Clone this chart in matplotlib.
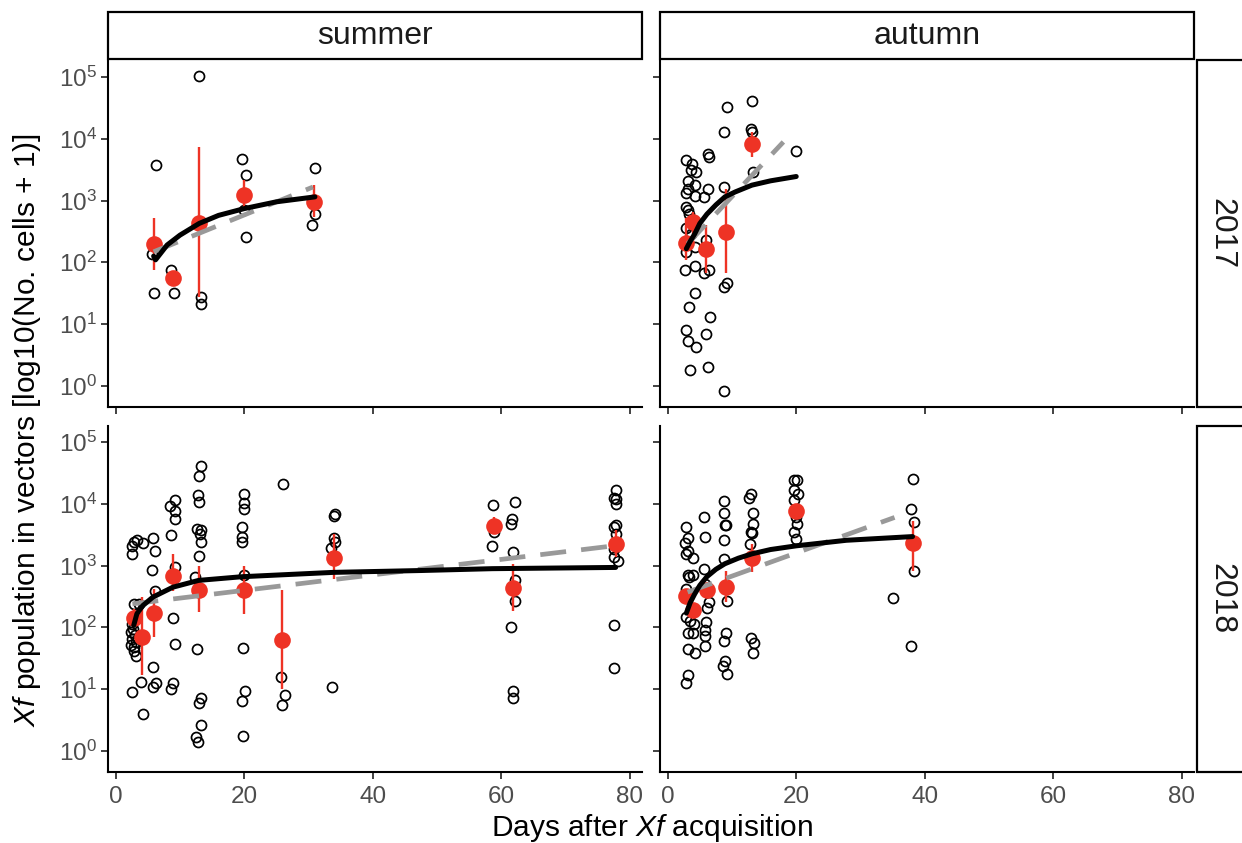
import numpy as np
import matplotlib
matplotlib.use("Agg")
import matplotlib.pyplot as plt
from matplotlib.patches import Rectangle
from matplotlib.ticker import LogFormatterSciNotation, FixedLocator

plt.rcParams['font.family'] = ['Liberation Sans', 'DejaVu Sans']
plt.rcParams['mathtext.fontset'] = 'custom'
plt.rcParams['mathtext.rm'] = 'Liberation Sans'
plt.rcParams['mathtext.it'] = 'Liberation Sans:italic'
plt.rcParams['mathtext.bf'] = 'Liberation Sans:bold'

# ---------------- data (y values are log10(No. cells + 1)) ----------------
# summer 2017
s17_x = [6.3, 12.9, 19.6, 20.2, 20.2, 20.0, 31.0, 31.0, 30.6, 5.7, 8.6, 5.9, 9.0, 13.2, 13.2]
s17_y = [3.58, 5.02, 3.68, 3.42, 2.41, 2.84, 3.53, 2.78, 2.60, 2.13, 1.87, 1.50, 1.51, 1.43, 1.32]
s17_mx = [5.9, 8.9, 12.9, 19.9, 30.8]
s17_my = [2.30, 1.75, 2.64, 3.09, 2.97]
s17_lo = [1.87, 1.66, 1.43, 2.90, 2.73]
s17_hi = [2.72, 1.84, 3.87, 3.33, 3.26]
s17_fit_x = [5.9, 6.2, 8.0, 10.0, 13.0, 16.0, 20.0, 25.0, 31.0]
s17_fit_y = [2.10, 2.04, 2.28, 2.44, 2.63, 2.76, 2.87, 2.98, 3.06]
s17_lin_x = [5.9, 30.7]
s17_lin_y = [2.17, 3.22]

# autumn 2017
a17_x = [2.8, 3.8, 3.6, 4.4, 3.2, 4.2, 3.1, 2.8, 4.2, 2.8, 3.1, 3.3, 2.8, 3.6, 4.2, 2.8, 2.7, 4.3, 4.3,
         3.3, 2.8, 3.1, 4.4, 3.5,
         6.2, 6.4, 6.2, 5.7, 6.0, 6.4, 5.7, 6.6, 6.0, 6.2,
         9.2, 8.8, 8.7, 8.8, 9.2, 8.7,
         13.1, 12.9, 13.1, 13.2,
         20.0]
a17_y = [3.66, 3.59, 3.49, 3.46, 3.32, 3.26, 3.19, 3.12, 3.07, 2.90, 2.85, 2.79, 2.55, 2.46, 2.25, 2.17,
         1.87, 1.94, 1.50, 1.27, 0.91, 0.72, 0.63, 0.26,
         3.76, 3.71, 3.18, 3.06, 2.36, 1.88, 1.82, 1.11, 0.84, 0.30,
         4.51, 4.11, 3.22, 1.60, 1.67, -0.09,
         4.61, 4.16, 4.11, 3.46,
         3.81]
a17_mx = [2.8, 3.9, 6.0, 9.0, 13.1]
a17_my = [2.31, 2.65, 2.21, 2.49, 3.91]
a17_lo = [2.03, 2.46, 1.82, 1.82, 3.71]
a17_hi = [2.71, 2.82, 2.60, 3.19, 4.11]
a17_fit_x = [2.9, 3.5, 4.2, 5.0, 6.1, 7.5, 8.9, 10.5, 13.1, 16.0, 20.0]
a17_fit_y = [2.22, 2.34, 2.46, 2.63, 2.78, 2.93, 3.06, 3.14, 3.25, 3.32, 3.39]
a17_lin_x = [3.1, 18.0]
a17_lin_y = [2.30, 3.95]

# summer 2018
s18_x = [2.6, 2.5, 2.9, 3.3, 4.2, 2.8, 3.6, 2.4, 2.6, 2.4, 2.8, 3.1, 3.9, 2.5, 4.3,
         2.7, 3.0, 2.9, 3.2, 2.5,
         5.8, 6.1, 5.7, 6.1, 5.8, 5.8, 6.3,
         9.2, 8.5, 9.2, 9.3, 8.6, 9.3, 8.9, 9.2, 8.9, 8.6,
         13.2, 12.9, 12.8, 12.9, 12.6, 13.3, 13.1, 13.3, 12.9, 12.4, 12.6, 13.3, 12.9, 13.3, 12.5, 12.8,
         20.0, 20.0, 20.0, 19.6, 19.7, 19.6, 20.0, 19.8, 20.1, 19.6, 19.8,
         26.1, 25.7, 26.3, 25.9,
         34.1, 33.9, 33.9, 34.1, 33.5, 33.7,
         58.7, 58.9, 58.6,
         62.1, 61.7, 61.5, 61.9, 62.1, 62.1, 61.5, 61.8, 61.9,
         77.8, 77.6, 77.8, 77.8, 77.9, 77.5, 77.8, 77.5, 77.5, 78.1, 77.6, 77.6]
s18_y = [3.18, 3.32, 3.38, 3.41, 3.36, 2.37, 2.37, 1.92, 1.81, 1.72, 1.62, 1.54, 1.12, 0.95, 0.59,
         1.98, 1.87, 1.68, 1.76, 2.05,
         3.44, 3.23, 2.93, 2.59, 1.36, 1.03, 1.09,
         4.07, 3.96, 3.88, 3.76, 3.49, 2.97, 2.15, 1.73, 1.10, 1.00,
         4.61, 4.45, 4.14, 4.03, 3.59, 3.57, 3.51, 3.39, 3.15, 2.82, 1.65, 0.86, 0.78, 0.41, 0.22, 0.14,
         4.16, 4.01, 3.92, 3.63, 3.46, 3.38, 2.84, 1.66, 0.97, 0.81, 0.24,
         4.32, 1.19, 0.91, 0.74,
         3.83, 3.81, 3.45, 3.38, 3.28, 1.03,
         3.98, 3.55, 3.32,
         4.03, 3.76, 3.68, 3.22, 2.76, 2.42, 2.00, 0.96, 0.86,
         4.23, 4.10, 4.08, 3.99, 3.66, 3.62, 3.51, 3.27, 3.14, 3.07, 2.04, 1.34]
s18_mx = [2.8, 4.1, 5.9, 8.9, 12.9, 19.9, 25.9, 33.9, 58.9, 61.8, 77.8]
s18_my = [2.15, 1.85, 2.23, 2.83, 2.61, 2.61, 1.80, 3.12, 3.64, 2.63, 3.35]
s18_lo = [2.00, 1.22, 1.84, 2.59, 2.24, 2.22, 1.00, 2.78, 3.51, 2.26, 3.14]
s18_hi = [2.30, 2.49, 2.62, 3.19, 3.00, 3.00, 2.61, 3.51, 3.78, 3.02, 3.57]
s18_fit_x = [2.8, 3.3, 4.2, 5.8, 8.9, 12.9, 19.7, 33.9, 47.5, 58.6, 77.8]
s18_fit_y = [2.03, 2.22, 2.35, 2.49, 2.65, 2.76, 2.82, 2.89, 2.92, 2.95, 2.97]
s18_lin_x = [2.6, 77.5]
s18_lin_y = [2.38, 3.32]

# autumn 2018
a18_x = [2.9, 3.1, 2.7, 3.2, 2.8, 3.9, 3.2, 4.0, 3.3, 2.8, 3.1, 2.8, 3.4, 4.1, 3.1, 3.9, 3.2, 4.2, 3.1, 2.9,
         5.7, 5.8, 5.7, 5.8, 6.4, 6.1, 6.0, 5.8, 5.8, 5.8,
         8.7, 8.7, 9.0, 8.9, 8.7, 8.7, 9.2, 9.0, 8.8, 8.9, 8.6, 9.2,
         12.9, 12.7, 13.3, 13.2, 12.9, 13.1, 12.8, 12.9, 13.4, 13.3,
         19.7, 20.1, 19.6, 20.3, 19.7, 20.0, 20.1, 19.7, 20.0,
         35.0,
         38.2, 37.8, 38.3, 38.3, 37.8]
a18_y = [3.63, 3.45, 3.36, 3.24, 3.18, 3.12, 2.85, 2.85, 2.81, 2.62, 2.51, 2.16, 2.11, 2.05, 1.91, 1.91,
         1.65, 1.58, 1.23, 1.10,
         3.78, 3.46, 2.95, 2.70, 2.41, 2.32, 2.08, 1.95, 1.86, 1.69,
         4.04, 3.86, 3.66, 3.65, 3.42, 3.11, 2.43, 1.90, 1.77, 1.45, 1.38, 1.24,
         4.16, 4.09, 3.85, 3.68, 3.54, 3.52, 3.35, 1.83, 1.74, 1.59,
         4.39, 4.38, 4.22, 4.16, 4.06, 3.78, 3.68, 3.54, 3.43,
         2.47,
         4.41, 3.91, 3.71, 2.92, 1.70]
a18_mx = [2.8, 4.0, 6.1, 9.0, 13.1, 20.0, 38.1]
a18_my = [2.51, 2.28, 2.61, 2.66, 3.12, 3.89, 3.36]
a18_lo = [2.40, 2.20, 2.50, 2.41, 2.89, 3.80, 2.92]
a18_hi = [2.62, 2.36, 2.72, 2.92, 3.35, 3.98, 3.73]
a18_fit_x = [2.9, 3.5, 4.2, 5.0, 6.1, 7.5, 8.9, 11.0, 13.1, 16.0, 20.0, 27.8, 38.1]
a18_fit_y = [2.23, 2.40, 2.54, 2.68, 2.82, 2.94, 3.03, 3.12, 3.19, 3.26, 3.32, 3.41, 3.47]
a18_lin_x = [3.1, 35.3]
a18_lin_y = [2.57, 3.78]

seasons = ["summer", "autumn"]
years = ["2017", "2018"]
x_ticks = [0, 20, 40, 60, 80]
y_tick_exps = [0, 1, 2, 3, 4, 5]

panels = {
    (0, 0): (s17_x, s17_y, s17_mx, s17_my, s17_lo, s17_hi, s17_fit_x, s17_fit_y, s17_lin_x, s17_lin_y),
    (0, 1): (a17_x, a17_y, a17_mx, a17_my, a17_lo, a17_hi, a17_fit_x, a17_fit_y, a17_lin_x, a17_lin_y),
    (1, 0): (s18_x, s18_y, s18_mx, s18_my, s18_lo, s18_hi, s18_fit_x, s18_fit_y, s18_lin_x, s18_lin_y),
    (1, 1): (a18_x, a18_y, a18_mx, a18_my, a18_lo, a18_hi, a18_fit_x, a18_fit_y, a18_lin_x, a18_lin_y),
}

# ---------------- layout ----------------
W, H = 1242, 843
fig = plt.figure(figsize=(W / 100, H / 100), dpi=100)

col_x = [108, 660]
col_w = 534
row_top = [60.5, 425.5]
row_h = 346.5

def fx(px):
    return px / W

def fy(py):
    return 1 - py / H

RED = "#EE3325"
GRAY_TXT = "#4D4D4D"
tick_fs = 17.5
lab_fs = 21.5
strip_fs = 23

for (r, c), (px, py, mx, my, lo, hi, fitx, fity, linx, liny) in panels.items():
    ax = fig.add_axes([fx(col_x[c]), fy(row_top[r] + row_h), col_w / W, row_h / H])
    ax.set_yscale("log")
    ax.set_xlim(-1.2, 81.9)
    ax.set_ylim(10 ** -0.345, 10 ** 5.27)
    for s in ["top", "right"]:
        ax.spines[s].set_visible(False)
    for s in ["left", "bottom"]:
        ax.spines[s].set_linewidth(1.5)
        ax.spines[s].set_color("black")

    ax.plot(px, 10 ** np.array(py), linestyle="none", marker="o", markersize=7.2,
            markerfacecolor="none", markeredgecolor="black", markeredgewidth=1.25, zorder=2)
    ax.vlines(mx, 10 ** np.array(lo), 10 ** np.array(hi), color=RED, linewidth=1.7, zorder=3)
    ax.plot(mx, 10 ** np.array(my), linestyle="none", marker="o", markersize=12,
            color=RED, markeredgewidth=0, zorder=4)
    ax.plot(linx, 10 ** np.array(liny), color="#999999", linewidth=3.4, dashes=(5.5, 3.2),
            solid_capstyle="butt", zorder=5)
    ax.plot(fitx, 10 ** np.array(fity), color="black", linewidth=3.6, zorder=6,
            solid_capstyle="round")

    ax.xaxis.set_major_locator(FixedLocator(x_ticks))
    ax.yaxis.set_major_locator(FixedLocator([10.0 ** e for e in y_tick_exps]))
    ax.yaxis.set_minor_locator(FixedLocator([]))
    ax.yaxis.set_major_formatter(LogFormatterSciNotation())
    ax.tick_params(axis="both", which="major", length=5, width=1.3, color="#333333",
                   labelsize=tick_fs, labelcolor=GRAY_TXT)
    ax.tick_params(axis="x", pad=5)
    ax.tick_params(axis="y", pad=3)
    ax.tick_params(axis="both", which="minor", length=0)
    if c != 0:
        ax.tick_params(axis="y", labelleft=False)
    if r != 1:
        ax.tick_params(axis="x", labelbottom=False)

    # top strips
    if r == 0:
        rect = Rectangle((fx(col_x[c]), fy(59)), col_w / W, (59 - 11.7) / H,
                         transform=fig.transFigure, facecolor="white", edgecolor="black",
                         linewidth=1.6, clip_on=False)
        fig.add_artist(rect)
        fig.text(fx(col_x[c] + col_w / 2), fy((59 + 11.7) / 2 + 1), seasons[c],
                 ha="center", va="center", fontsize=strip_fs, color="#1A1A1A")
    # right strips
    if c == 1:
        rect = Rectangle((fx(1196.7), fy(row_top[r] + row_h)), 50 / W, row_h / H,
                         transform=fig.transFigure, facecolor="white", edgecolor="black",
                         linewidth=1.6, clip_on=False)
        fig.add_artist(rect)
        fig.text(fx(1221), fy(row_top[r] + row_h / 2), years[r], rotation=-90,
                 ha="center", va="center", fontsize=strip_fs, color="#1A1A1A")

fig.text(fx(652), fy(828), r"Days after $\it{Xf}$ acquisition", ha="center", va="center",
         fontsize=lab_fs, color="black")
fig.text(fx(27), fy(430), r"$\it{Xf}$ population in vectors [log10(No. cells + 1)]",
         rotation=90, ha="center", va="center", fontsize=lab_fs, color="black")

fig.savefig("out.png", dpi=100, facecolor="white")
